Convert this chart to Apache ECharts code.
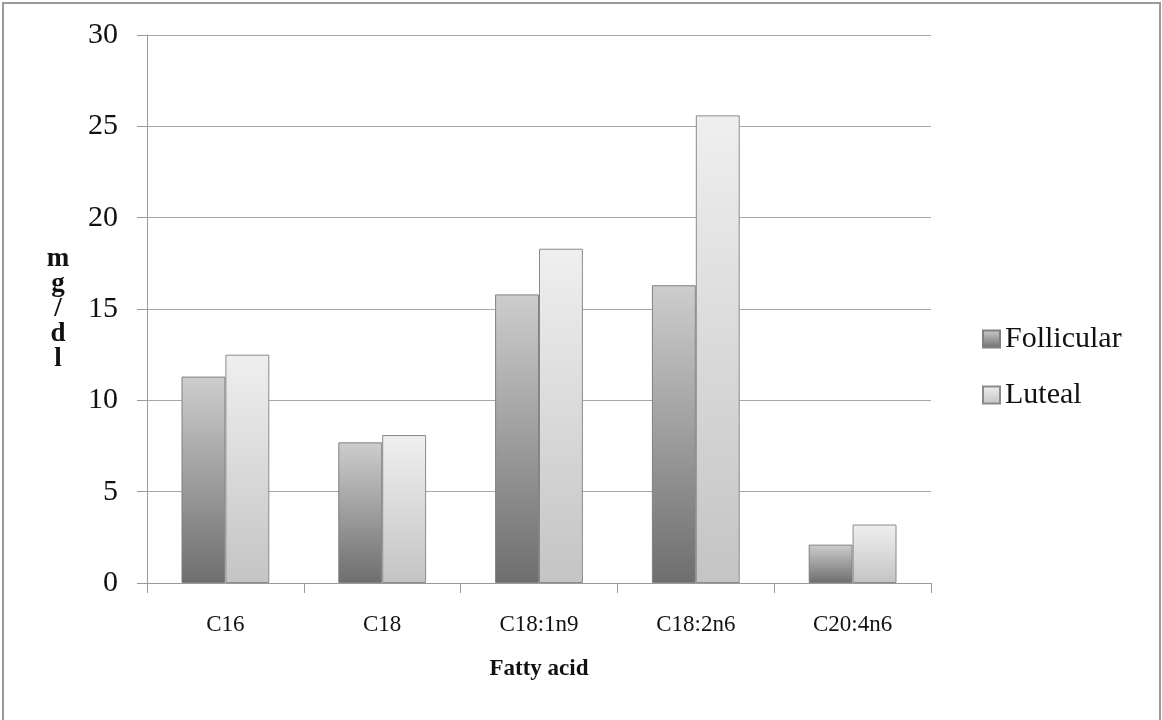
<!DOCTYPE html>
<html>
<head>
<meta charset="utf-8">
<script src="https://cdn.jsdelivr.net/npm/echarts@6/dist/echarts.min.js"></script>
<style>html,body{margin:0;padding:0;background:#fff}#c{width:1162px;height:720px}</style>
</head>
<body>
<div id="c"></div>
<script>
const categories = ['C16', 'C18', 'C18:1n9', 'C18:2n6', 'C20:4n6'];
const follicular = [11.3, 7.7, 15.8, 16.3, 2.1];
const luteal = [12.5, 8.1, 18.3, 25.6, 3.2];
const yTicks = { min: 0, max: 30, interval: 5 };

const FONT = '"Liberation Serif", "DejaVu Serif", serif';
const chart = echarts.init(document.getElementById('c'));

function grad(top, bottom) {
  return new echarts.graphic.LinearGradient(0, 0, 0, 1, [
    { offset: 0, color: top },
    { offset: 1, color: bottom }
  ]);
}

chart.setOption({
  backgroundColor: '#ffffff',
  animation: false,
  graphic: [{
    type: 'rect',
    shape: { x: 3, y: 3, width: 1157, height: 740 },
    style: { fill: 'none', stroke: '#9a9a9a', lineWidth: 2 },
    silent: true
  }],
  grid: { left: 147, right: 231, top: 35, bottom: 137, containLabel: false },
  legend: [{
    orient: 'vertical', left: 977, top: 319,
    itemWidth: 17, itemHeight: 17, itemGap: 10,
    icon: 'rect',
    textStyle: { fontFamily: FONT, fontSize: 30, color: '#111', lineHeight: 26 },
    data: ['Follicular']
  }, {
    orient: 'vertical', left: 977, top: 375,
    itemWidth: 17, itemHeight: 17, itemGap: 10,
    icon: 'rect',
    textStyle: { fontFamily: FONT, fontSize: 30, color: '#111', lineHeight: 26 },
    data: ['Luteal']
  }],
  xAxis: {
    type: 'category',
    data: categories,
    name: 'Fatty acid',
    nameLocation: 'middle',
    nameGap: 75,
    nameTextStyle: { fontFamily: FONT, fontSize: 23, fontWeight: 'bold', color: '#111' },
    axisLine: { lineStyle: { color: '#9a9a9a', width: 1 } },
    axisTick: { show: true, length: 10, alignWithLabel: false, lineStyle: { color: '#9a9a9a' } },
    axisLabel: { fontFamily: FONT, fontSize: 23, color: '#111', margin: 30 },
    splitLine: { show: false }
  },
  yAxis: {
    type: 'value',
    min: yTicks.min, max: yTicks.max, interval: yTicks.interval,
    name: 'm\ng\n/\nd\nl',
    nameLocation: 'middle',
    nameRotate: 0,
    nameGap: 89,
    nameTextStyle: { fontFamily: FONT, fontSize: 27, fontWeight: 'bold', color: '#111', lineHeight: 25, align: 'center' },
    axisLine: { show: true, lineStyle: { color: '#9a9a9a', width: 1 } },
    axisTick: { show: true, length: 10, lineStyle: { color: '#9a9a9a' } },
    axisLabel: { fontFamily: FONT, fontSize: 30, color: '#111', margin: 29 },
    splitLine: { show: true, lineStyle: { color: '#a8a8a8', width: 1 } }
  },
  series: [{
    name: 'Follicular',
    type: 'bar',
    data: follicular,
    barWidth: '28%',
    barGap: '0%',
    itemStyle: { color: grad('#cdcdcd', '#6e6e6e'), borderColor: '#808080', borderWidth: 1 }
  }, {
    name: 'Luteal',
    type: 'bar',
    data: luteal,
    barWidth: '28%',
    itemStyle: { color: grad('#efefef', '#c4c4c4'), borderColor: '#8a8a8a', borderWidth: 1 }
  }]
});
</script>
</body>
</html>
